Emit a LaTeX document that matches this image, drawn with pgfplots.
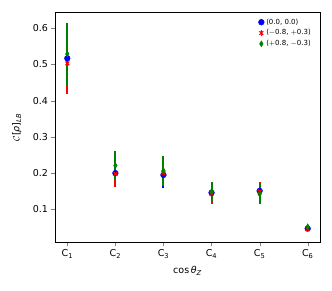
\documentclass[border=0pt]{standalone}
\usepackage{fontspec}
\setmainfont{DejaVu Sans}
\usepackage{pgfplots}
\pgfplotsset{compat=1.18}
\usetikzlibrary{calc}

\definecolor{mplblue}{RGB}{0,0,255}
\definecolor{mplred}{RGB}{255,0,0}
\definecolor{mplgreen}{RGB}{0,128,0}

\pgfplotstableread{
x  b     be     r     re     g     ge
1  0.517 0.085  0.503 0.085  0.529 0.085
2  0.200 0.038  0.198 0.037  0.221 0.040
3  0.195 0.035  0.200 0.036  0.207 0.041
4  0.146 0.027  0.142 0.027  0.149 0.027
5  0.151 0.025  0.149 0.027  0.142 0.027
6  0.047 0.006  0.045 0.006  0.052 0.006
}\cdata

\pgfplotsset{
  ebar/.style={forget plot, draw=none, mark=none,
    error bars/.cd, y dir=both, y explicit,
    error bar style={line width=2pt, draw=#1}, error mark=none},
  legbar/.style={legend image code/.code={
    \draw[line width=1.6pt,draw=#1] (0.15cm,-3pt)--(0.15cm,3pt);
    \draw[mark repeat=2,mark phase=2] plot coordinates {(0cm,0cm) (0.15cm,0cm) (0.3cm,0cm)};}},
}

\begin{document}
\begin{tikzpicture}
\begin{axis}[
    scale only axis,
    width=265pt, height=230.4pt,
    xmin=0.744, xmax=6.256,
    ymin=0.008, ymax=0.644,
    xtick={1,2,3,4,5,6},
    xticklabels={C\textsubscript{1},C\textsubscript{2},C\textsubscript{3},C\textsubscript{4},C\textsubscript{5},C\textsubscript{6}},
    ytick={0.1,0.2,0.3,0.4,0.5,0.6},
    yticklabel style={/pgf/number format/fixed,/pgf/number format/precision=1,/pgf/number format/fixed zerofill},
    /pgf/number format/assume math mode=true,
    tick label style={font=\fontsize{9.5}{11}\selectfont},
    label style={font=\fontsize{9.5}{11}\selectfont},
    tick align=outside,
    tick pos=left,
    major tick length=3.5pt,
    axis line style={line width=0.6pt},
    xlabel={cos\,\textit{θ}\textsubscript{\textit{Z}}},
    ylabel={$\mathcal{C}$[\textit{ρ}]\textsubscript{\textit{LB}}},
    xlabel style={at={(axis description cs:0.5,0)},anchor=north,yshift=-20pt},
    ylabel style={at={(axis description cs:0,0.5)},anchor=south,yshift=30pt},
    legend style={draw=none, fill=none, font=\fontsize{7}{8.5}\selectfont,
        at={(0.985,0.99)}, anchor=north east, row sep=0pt,
        legend cell align=left},
]
% error bars first, markers on top
\addplot[ebar=mplblue]  table[x=x, y=b, y error=be] {\cdata};
\addplot[ebar=mplred]   table[x=x, y=r, y error=re] {\cdata};
\addplot[ebar=mplgreen] table[x=x, y=g, y error=ge] {\cdata};

\addplot[only marks, mark=*, mark size=2.9pt, draw=mplblue, fill=mplblue, legbar=mplblue]
    table[x=x, y=b] {\cdata};
\addlegendentry{(0.0, 0.0)}
\addplot[only marks, mark=x, mark size=2.6pt, line width=1.2pt, draw=mplred, legbar=mplred]
    table[x=x, y=r] {\cdata};
\addlegendentry{($-$0.8, $+$0.3)}
\addplot[only marks, mark=diamond*, mark size=3pt, draw=mplgreen, fill=mplgreen,
    mark options={xscale=0.8}, legbar=mplgreen]
    table[x=x, y=g] {\cdata};
\addlegendentry{($+$0.8, $-$0.3)}
\end{axis}
\path ($(current axis.south west)+(-55pt,-48.3pt)$) rectangle ($(current axis.north east)+(12pt,12.3pt)$);
\end{tikzpicture}
\end{document}
